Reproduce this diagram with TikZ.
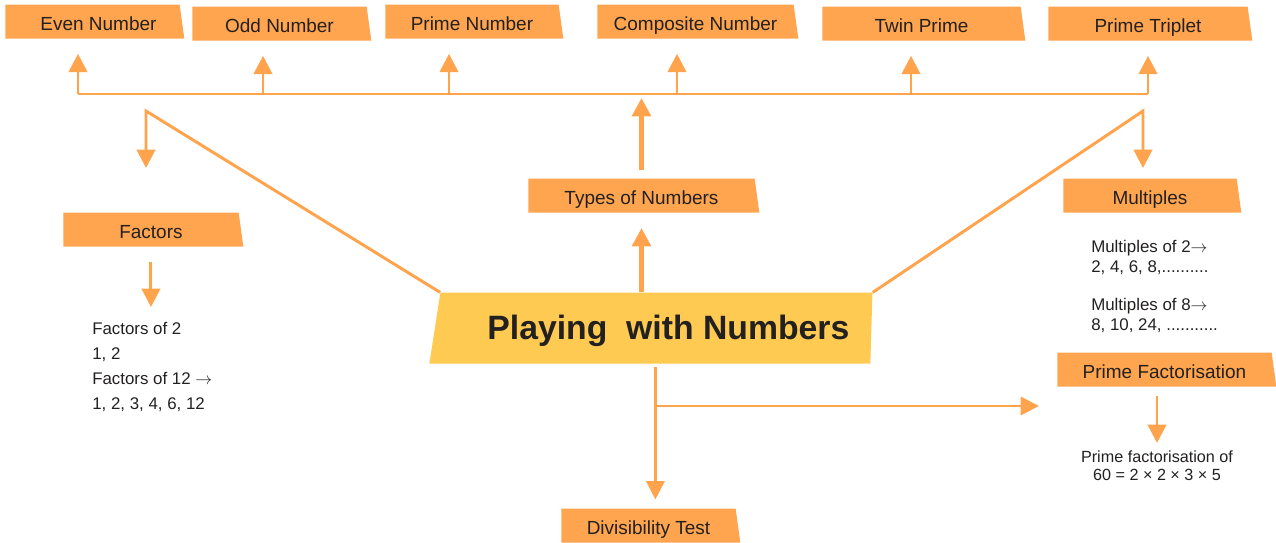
\documentclass[tikz,border=0pt]{standalone}
\usepackage{fontspec}
\setmainfont{Liberation Sans}
\usetikzlibrary{arrows.meta, shapes.geometric}
\definecolor{tabOrange}{RGB}{255,165,80}
\definecolor{lineOrange}{RGB}{255,163,77}
\definecolor{titleYellow}{RGB}{255,202,82}
\definecolor{inkGrey}{RGB}{35,32,32}
\tikzset{%
	>={Triangle[width=13pt,length=13pt]},
	% Specifications for style of nodes:
	base/.style = {trapezium, trapezium left angle=90, trapezium right angle=78,
		trapezium stretches body, draw=none, inner sep=0pt,
		minimum height=0.85cm, text=inkGrey, anchor=bottom left corner},
	tab/.style = {base, fill=tabOrange, text height=0.5cm, text depth=0.05cm,
		font=\fontsize{13.5}{16}\selectfont},
	title/.style = {base, fill=titleYellow, trapezium left angle=70,
		trapezium right angle=94, minimum height=1.775cm,
		text height=0.66cm, text depth=0.1cm,
		font=\fontsize{24}{28}\selectfont\bfseries},
	note/.style = {inner sep=0pt, align=left, text=inkGrey, anchor=north west},
	% Specifications for style of connectors:
	link/.style = {draw=lineOrange, line width=2.1pt},
	boldlink/.style = {draw=lineOrange, line width=3.5pt},
	thinlink/.style = {draw=lineOrange, line width=1.8pt},
}
\begin{document}
\begin{tikzpicture}[x=0.025cm, y=-0.025cm]
	\useasboundingbox (0,0) rectangle (1276,543);
	
	% Specification of nodes (position, etc.)
	\node (even)      [tab, minimum width=4.475cm] at (5,39)    {\hspace*{0.3cm}Even Number};
	\node (odd)       [tab, minimum width=4.475cm] at (192,41)  {Odd Number};
	\node (prime)     [tab, minimum width=4.45cm]  at (385,39)  {Prime Number};
	\node (composite) [tab, minimum width=5.025cm] at (597,39)  {Composite Number};
	\node (twin)      [tab, minimum width=5.075cm] at (822,41)  {Twin Prime};
	\node (triplet)   [tab, minimum width=5.1cm]   at (1048,41) {Prime Triplet};
	
	\node (types)     [tab, minimum width=5.775cm] at (528,213)  {Types of Numbers};
	\node (factors)   [tab, minimum width=4.5cm]   at (63,247)   {Factors};
	\node (multiples) [tab, minimum width=4.45cm]  at (1063,213) {Multiples};
	\node (primefac)  [tab, minimum width=5.475cm] at (1057,387) {Prime Factorisation};
	\node (divtest)   [tab, minimum width=4.475cm] at (561,543)  {Divisibility Test};
	
	\node (main)      [title, minimum width=11.075cm] at (429,364) {\hspace*{0.65cm}Playing\ \ with Numbers};
	
	% text under the boxes
	\node (factext)  [note, font=\fontsize{12}{17.8}\selectfont] at (92,322)
		{Factors of 2\\1, 2\\Factors of 12 $\rightarrow$\\1, 2, 3, 4, 6, 12};
	\node (multext2) [note, font=\fontsize{12}{14.2}\selectfont] at (1091,240)
		{Multiples of 2$\rightarrow$\\2, 4, 6, 8,..........};
	\node (multext8) [note, font=\fontsize{12}{14.2}\selectfont] at (1091,298)
		{Multiples of 8$\rightarrow$\\8, 10, 24, ...........};
	\node (pftext)   [note, align=center, anchor=north, font=\fontsize{11.5}{12.8}\selectfont] at (1157,451)
		{Prime factorisation of\\60 = 2 × 2 × 3 × 5};
	
	% junctions
	\coordinate (busL)  at (78,94);
	\coordinate (bOdd)  at (263,94);
	\coordinate (bPrime) at (449,94);
	\coordinate (bComp) at (677,94);
	\coordinate (bTwin) at (911,94);
	\coordinate (busR)  at (1148,94);
	\coordinate (lknee) at (146,111);
	\coordinate (ltip)  at (146,168);
	\coordinate (rknee) at (1143,111);
	\coordinate (rtip)  at (1143,168);
	\coordinate (split) at (main.south |- 0,406);
	\coordinate (pfin)  at (1039,406);
	
	\draw [link] (busL) -- (busR);
	
	\draw[->] [link, shorten >=0.37cm] (busL) -- (busL |- even.south);
	\draw[->] [link, shorten >=0.37cm] (bOdd) -- (bOdd |- odd.south);
	\draw[->] [link, shorten >=0.37cm] (bPrime) -- (bPrime |- prime.south);
	\draw[->] [link, shorten >=0.37cm] (bComp) -- (bComp |- composite.south);
	\draw[->] [link, shorten >=0.37cm] (bTwin) -- (bTwin |- twin.south);
	\draw[->] [link, shorten >=0.37cm] (busR) -- (busR |- triplet.south);
	
	\draw[->] [boldlink, shorten >=0.375cm] (types.south |- main.north) -- (types.south);
	\draw[->] [boldlink, shorten <=0.2cm, shorten >=0.1cm] (types.south |- types.north) -- (types.south |- busL);
	
	\draw[->] [link] (main.top left corner) -- (lknee) -- (ltip);
	\draw[->] [link] (main.top right corner) -- (rknee) -- (rtip);
	
	\draw[->] [link, shorten <=0.375cm, shorten >=0.375cm] (factors.south) -- (factors.south |- factext.north);
	\draw[->] [link, shorten <=0.225cm, shorten >=0.2cm] (pftext.north |- primefac.south) -- (pftext.north);
	
	\draw[->] [thinlink, shorten <=0.075cm, shorten >=0.225cm] (main.south) -- (main.south |- divtest.north);
	\draw[->] [thinlink] (split) -- (pfin);
	
\end{tikzpicture}
\end{document}
